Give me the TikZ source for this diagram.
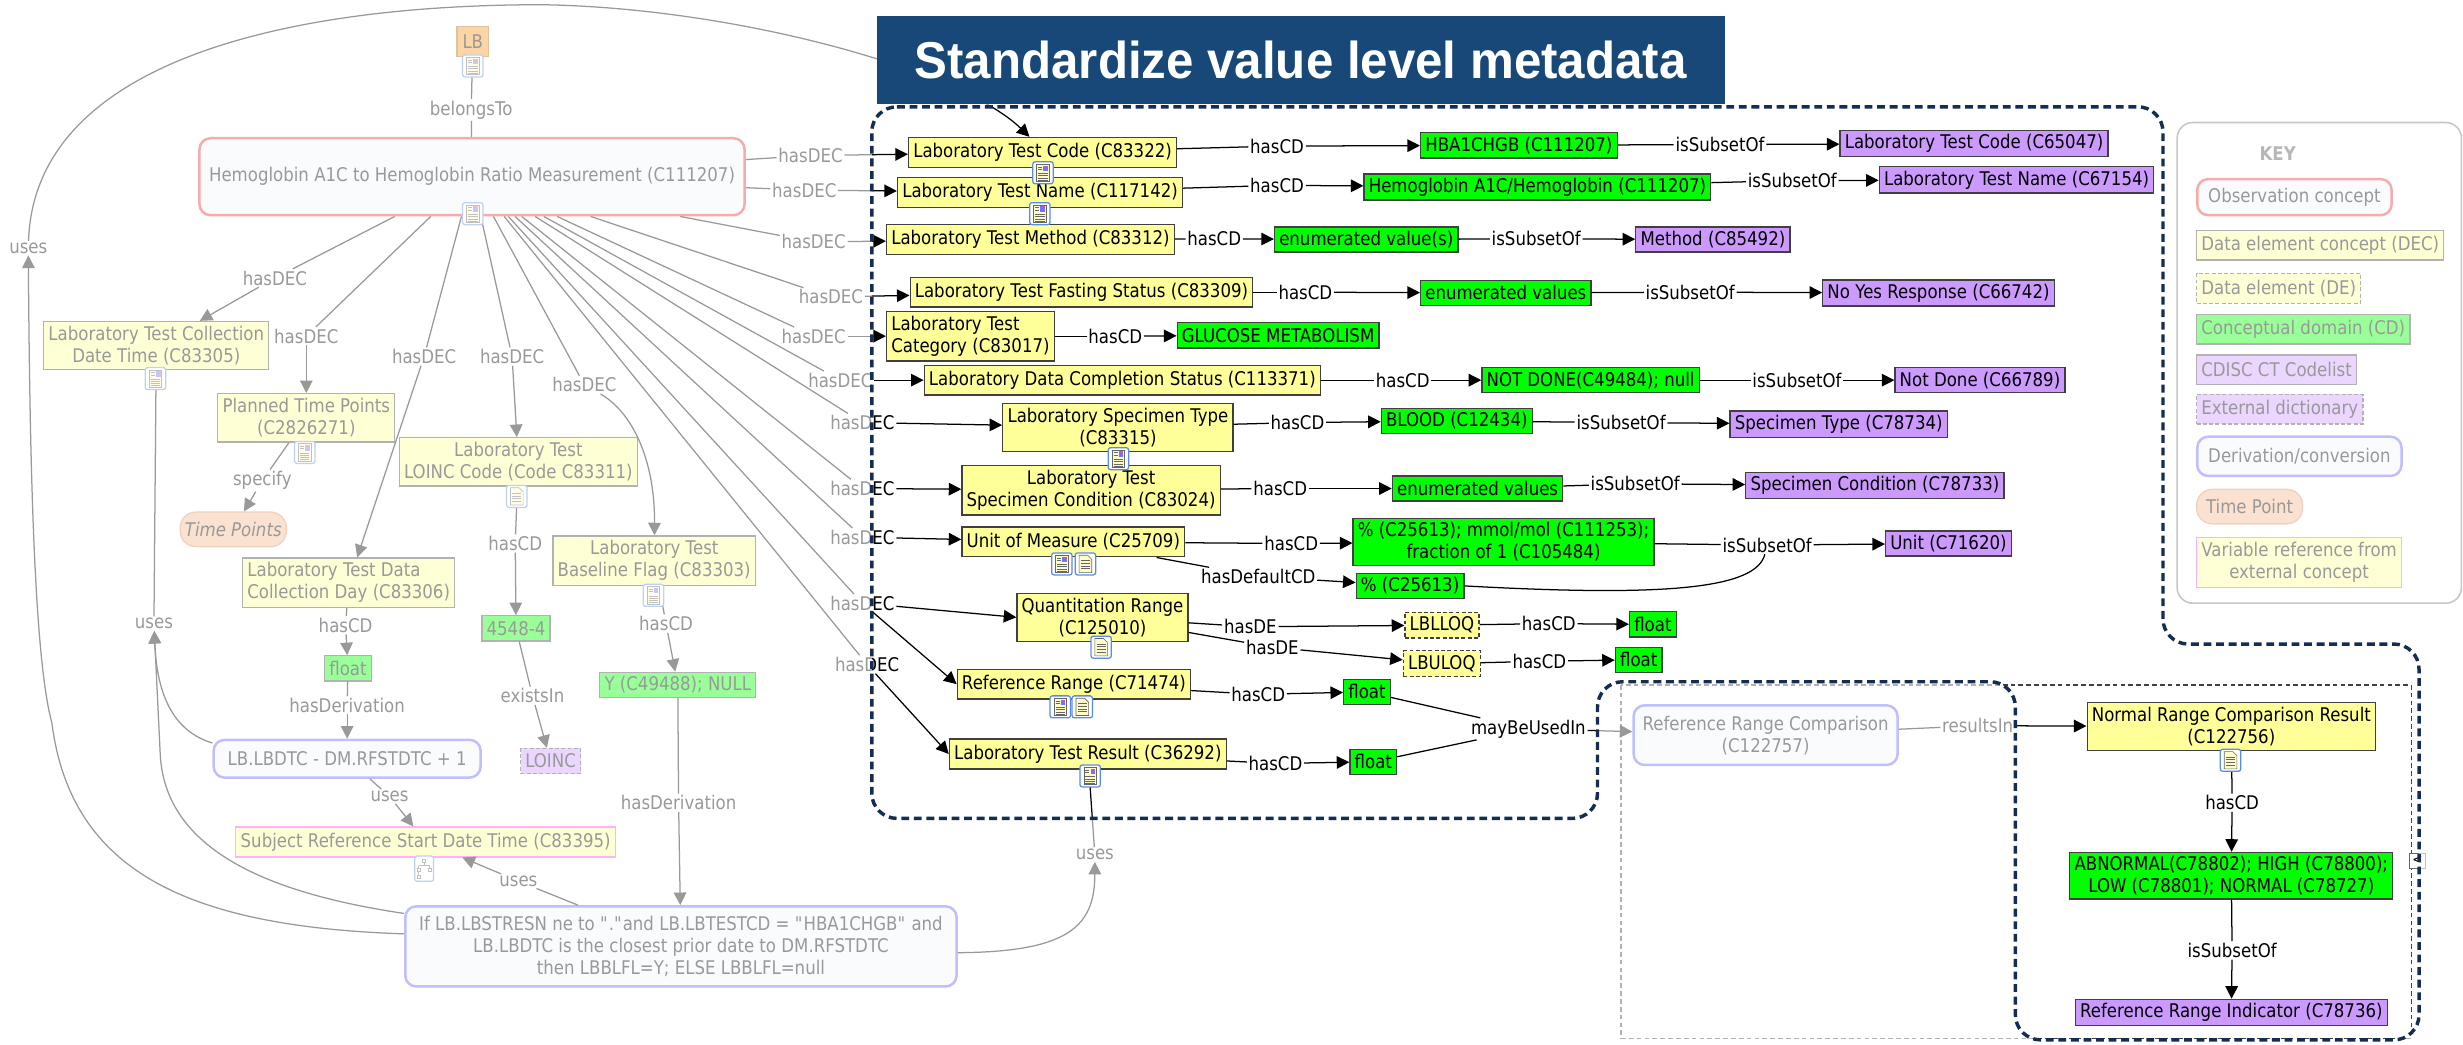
\documentclass[tikz,border=0pt]{standalone}
\usepackage{fontspec}
\setmainfont{DejaVu Sans}[FakeStretch=0.88]
\newfontfamily\titlefont{Liberation Sans}[FakeStretch=0.95]
\usetikzlibrary{arrows.meta}
\newcommand{\vfont}{\fontsize{12}{14}\selectfont}
\newcommand{\dq}{\textquotedbl}
\definecolor{navy}{RGB}{20,45,82}
\definecolor{titleblue}{RGB}{23,72,120}
\definecolor{decyellow}{RGB}{255,255,153}
\definecolor{cdgreen}{RGB}{0,255,0}
\definecolor{ctpurple}{RGB}{204,153,255}
\definecolor{obsred}{RGB}{235,45,45}
\definecolor{derivblue}{RGB}{95,95,250}
\definecolor{lightfill}{RGB}{242,247,251}
\definecolor{tpfill}{RGB}{245,180,135}
\definecolor{tpdraw}{RGB}{215,140,100}
\definecolor{lborange}{RGB}{245,150,25}
\definecolor{varpink}{RGB}{255,60,255}
\definecolor{iconblue}{RGB}{90,140,230}
\begin{document}
\begin{tikzpicture}[x=1pt, y=-1pt,
    every node/.style={font=\vfont, inner sep=3pt},
    box/.style={draw=black!75, line width=0.8pt},
    dec/.style={box, fill=decyellow, minimum height=19},
    cd/.style={box, fill=cdgreen, inner ysep=2.5pt, minimum height=16},
    ct/.style={box, fill=ctpurple, inner ysep=2.5pt, minimum height=16},
    de/.style={box, fill=decyellow, dash pattern=on 2.5pt off 1.5pt, minimum height=16},
    ext/.style={ct, dash pattern=on 2.5pt off 1.5pt},
    obs/.style={draw=obsred, line width=1.6pt, fill=lightfill, rounded corners=7pt},
    deriv/.style={draw=derivblue, line width=1.6pt, fill=lightfill, rounded corners=7pt},
    tp/.style={draw=tpdraw, line width=0.8pt, fill=tpfill, rounded corners=10pt, minimum height=22},
    varref/.style={draw=varpink, line width=0.8pt, fill=decyellow, minimum height=19},
    lbbox/.style={draw=lborange!70!black, line width=0.8pt, fill=lborange, inner sep=2pt, minimum height=19},
    lab/.style={inner sep=1pt},
    link/.style={draw=black, line width=0.8pt},
    arr/.style={link, -{Triangle[length=8pt, width=8pt]}},
    imgicon/.pic={
        \draw[iconblue, fill=white, line width=0.8pt, rounded corners=1.5pt] (-6.5,-7) rectangle (6.5,7);
        \draw[black!60, fill=yellow!20, line width=0.4pt] (-4,-5.5) rectangle (4,5.5);
        \fill[blue!55] (0.3,-4.6) rectangle (3.2,-1.2);
        \fill[red!70] (2,-4.6) rectangle (3.2,-3.4);
        \foreach \yy in {-3.8,-2.3} \draw[black!60, line width=0.4pt] (-3,\yy) -- (-0.5,\yy);
        \foreach \yy in {0.3,1.8,3.3,4.6} \draw[black!60, line width=0.4pt] (-3,\yy) -- (3,\yy);
    },
    txticon/.pic={
        \draw[iconblue, fill=white, line width=0.8pt, rounded corners=1.5pt] (-6.5,-7) rectangle (6.5,7);
        \draw[black!60, fill=yellow!20, line width=0.4pt] (-4,-5.5) -- (1.5,-5.5) -- (4,-3) -- (4,5.5) -- (-4,5.5) -- cycle;
        \foreach \yy in {-2,-0.3,1.4,3.1} \draw[black!60, line width=0.4pt] (-2.8,\yy) -- (2.8,\yy);
    },
    treeicon/.pic={
        \draw[iconblue, fill=white, line width=0.8pt, rounded corners=1.5pt] (-6,-8) rectangle (6,8);
        \draw[black!60, line width=0.4pt] (-1,-6) rectangle (1,-4) (0,-4) -- (0,-2) (-3.5,-2) -- (3.5,-2)
            (-3.5,-2) -- (-3.5,0) (3.5,-2) -- (3.5,0) (-4.5,0) rectangle (-2.5,2) (2.5,0) rectangle (4.5,2)
            (-3.5,2) -- (-3.5,4) (-4.5,4) rectangle (-2.5,6);
    }
]
\useasboundingbox (0,0) rectangle (1568,665);

% Concetto di osservazione
\node[lbbox, minimum width=20] (lb) at (301,26.5) {LB};
\node[lab] (belongs) at (300,70) {belongsTo};
\node[obs, minimum width=347, minimum height=49] (obs) at (300.5,112.5) {Hemoglobin A1C to Hemoglobin Ratio Measurement (C111207)};

% DEC a sinistra
\node[dec, align=center] (dcoll) at (99.5,220) {Laboratory Test Collection\\Date Time (C83305)};
\node[dec, align=center] (dplan) at (195,266) {Planned Time Points\\(C2826271)};
\node[tp] (tpoint) at (148.5,337) {\itshape Time Points};
\node[dec, align=center] (dloinc) at (330,294) {Laboratory Test\\LOINC Code (Code C83311)};
\node[dec, align=left] (dday) at (222,371) {Laboratory Test Data\\Collection Day (C83306)};
\node[dec, align=center] (dbase) at (416.5,357) {Laboratory Test\\Baseline Flag (C83303)};
\node[cd] (cdfloat) at (221.5,425.5) {float};
\node[cd] (cdloinc) at (328.5,400) {4548-4};
\node[cd] (cdy) at (431.5,436) {Y (C49488); NULL};
\node[ext] (extloinc) at (350.5,484.5) {LOINC};
\node[deriv, minimum width=170, minimum height=24] (lbdtc) at (221,483) {LB.LBDTC - DM.RFSTDTC + 1};
\node[varref, minimum width=242] (subjref) at (271,536) {Subject Reference Start Date Time (C83395)};
\node[deriv, align=center, minimum width=351, minimum height=51] (bnode) at (433.5,602.5) {If LB.LBSTRESN ne to \dq.\dq and LB.LBTESTCD = \dq HBA1CHGB\dq{} and\\LB.LBDTC is the closest prior date to DM.RFSTDTC\\then LBBLFL=Y; ELSE LBBLFL=null};

\node[lab] (hdcoll) at (175,177) {hasDEC};
\node[lab] (hdplan) at (195,214) {hasDEC};
\node[lab] (hdday) at (270,227) {hasDEC};
\node[lab] (hdloinc) at (326,227) {hasDEC};
\node[lab] (hdbase) at (372,245) {hasDEC};
\node[lab] (spec) at (167,306) {specify};
\node[lab] (hcloinc) at (328,346) {hasCD};
\node[lab] (exists) at (339,443) {existsIn};
\node[lab] (hcbase) at (424,397) {hasCD};
\node[lab] (hcday) at (220,398) {hasCD};
\node[lab] (hderday) at (221,449) {hasDerivation};
\node[lab] (hderbase) at (432,511) {hasDerivation};
\node[lab] (usesa) at (18,158) {uses};
\node[lab] (usesb) at (98,397) {uses};
\node[lab] (usesc) at (330,561) {uses};
\node[lab] (usesd) at (248,507) {uses};
\node[lab] (usese) at (697,544) {uses};

% Metadati a livello di valore
\node[dec, anchor=west] (dcode) at (578,97) {Laboratory Test Code (C83322)};
\node[dec, anchor=west] (dname) at (571,122.5) {Laboratory Test Name (C117142)};
\node[dec, anchor=west] (dmeth) at (564,152.5) {Laboratory Test Method (C83312)};
\node[dec, anchor=west] (dfast) at (579,186) {Laboratory Test Fasting Status (C83309)};
\node[dec, anchor=west, align=left] (dcat) at (564,214) {Laboratory Test\\Category (C83017)};
\node[dec, anchor=west] (dcompl) at (588,242) {Laboratory Data Completion Status (C113371)};
\node[dec, anchor=west, align=center] (dspec) at (638,272) {Laboratory Specimen Type\\(C83315)};
\node[dec, anchor=west, align=center] (dcond) at (612,312) {Laboratory Test\\Specimen Condition (C83024)};
\node[dec, anchor=west] (dunit) at (612,345) {Unit of Measure (C25709)};
\node[dec, anchor=west, align=center] (dquant) at (647,393) {Quantitation Range\\(C125010)};
\node[dec, anchor=west] (dref) at (609,435.5) {Reference Range (C71474)};
\node[dec, anchor=west] (dres) at (604,480) {Laboratory Test Result (C36292)};

\node[cd, anchor=west] (cd1) at (904,92.5) {HBA1CHGB (C111207)};
\node[cd, anchor=west] (cd2) at (868,119) {Hemoglobin A1C/Hemoglobin (C111207)};
\node[cd, anchor=west] (cd3) at (811,152.5) {enumerated value(s)};
\node[cd, anchor=west] (cd4) at (904,186.5) {enumerated values};
\node[cd, anchor=west] (cd5) at (749,213.5) {GLUCOSE METABOLISM};
\node[cd, anchor=west] (cd6) at (943,242) {NOT DONE(C49484); null};
\node[cd, anchor=west] (cd7) at (879,268) {BLOOD (C12434)};
\node[cd, anchor=west] (cd8) at (886,311) {enumerated values};
\node[cd, anchor=west, align=center] (cd9) at (861,345) {\% (C25613); mmol/mol (C111253);\\fraction of 1 (C105484)};
\node[cd, anchor=west] (cd10) at (863,373) {\% (C25613)};
\node[de, anchor=west] (de1) at (894,398) {LBLLOQ};
\node[de, anchor=west] (de2) at (893,422.5) {LBULOQ};
\node[cd, anchor=west] (cd11) at (1037,397.5) {float};
\node[cd, anchor=west] (cd12) at (1028,420) {float};
\node[cd, anchor=west] (cd13) at (855,440.5) {float};
\node[cd, anchor=west] (cd14) at (859,485) {float};

\node[ct, anchor=west] (ct1) at (1171,91.5) {Laboratory Test Code (C65047)};
\node[ct, anchor=west] (ct2) at (1196,114.5) {Laboratory Test Name (C67154)};
\node[ct, anchor=west] (ct3) at (1041,152.5) {Method (C85492)};
\node[ct, anchor=west] (ct4) at (1160,186.5) {No Yes Response (C66742)};
\node[ct, anchor=west] (ct5) at (1206,242) {Not Done (C66789)};
\node[ct, anchor=west] (ct6) at (1101,270) {Specimen Type (C78734)};
\node[ct, anchor=west] (ct7) at (1111,309) {Specimen Condition (C78733)};
\node[ct, anchor=west] (ct8) at (1200,346) {Unit (C71620)};

\node[lab] (hcode) at (516,99) {hasDEC};
\node[lab] (hname) at (512,121) {hasDEC};
\node[lab] (hmeth) at (518,154) {hasDEC};
\node[lab] (hfast) at (529,189) {hasDEC};
\node[lab] (hcat) at (518,214) {hasDEC};
\node[lab] (hcompl) at (535,242) {hasDEC};
\node[lab] (hspec) at (549,269) {hasDEC};
\node[lab] (hcond) at (549,311) {hasDEC};
\node[lab] (hunit) at (549,342) {hasDEC};
\node[lab] (hquant) at (549,384) {hasDEC};
\node[lab] (hres) at (552,423) {hasDEC};

\node[lab] (hc1) at (813,93) {hasCD};
\node[lab] (hc2) at (813,118) {hasCD};
\node[lab] (hc3) at (773,152) {hasCD};
\node[lab] (hc4) at (831,186) {hasCD};
\node[lab] (hc5) at (710,214) {hasCD};
\node[lab] (hc6) at (893,242) {hasCD};
\node[lab] (hc7) at (826,269) {hasCD};
\node[lab] (hc8) at (815,311) {hasCD};
\node[lab] (hc9) at (822,346) {hasCD};
\node[lab] (hdef) at (801,367) {hasDefaultCD};
\node[lab] (hde1) at (796,399) {hasDE};
\node[lab] (hde2) at (810,412) {hasDE};
\node[lab] (hc11) at (986,397) {hasCD};
\node[lab] (hc12) at (980,421) {hasCD};
\node[lab] (hc13) at (801,442) {hasCD};
\node[lab] (hc14) at (812,486) {hasCD};
\node[lab] (sub1) at (1095,92) {isSubsetOf};
\node[lab] (sub2) at (1141,115) {isSubsetOf};
\node[lab] (sub3) at (978,152) {isSubsetOf};
\node[lab] (sub4) at (1076,186) {isSubsetOf};
\node[lab] (sub6) at (1144,242) {isSubsetOf};
\node[lab] (sub7) at (1032,269) {isSubsetOf};
\node[lab] (sub8) at (1041,308) {isSubsetOf};
\node[lab] (sub9) at (1125,347) {isSubsetOf};

% Confronto con l'intervallo di riferimento
\draw[black!75, line width=0.8pt, dash pattern=on 3pt off 2pt] (1032,436) rectangle (1535,661);
\node[deriv, align=center, minimum width=168, minimum height=38] (rrc) at (1124,468) {Reference Range Comparison\\(C122757)};
\node[dec, align=center] (nrc) at (1420.5,462.5) {Normal Range Comparison Result\\(C122756)};
\node[cd, align=center] (abn) at (1420.5,557.5) {ABNORMAL(C78802); HIGH (C78800);\\LOW (C78801); NORMAL (C78727)};
\node[ct] (rri) at (1420.5,644.5) {Reference Range Indicator (C78736)};
\node[lab] (maybe) at (973,464) {mayBeUsedIn};
\node[lab] (results) at (1259,462) {resultsIn};
\node[lab] (hcnrc) at (1421,511) {hasCD};
\node[lab] (subnrc) at (1421,605) {isSubsetOf};
\node[draw=black!60, fill=white, inner sep=0.5pt, minimum size=10, font=\fontsize{9}{9}\selectfont] (collapse) at (1539,548) {<};

% Legenda
\node[draw=black!55, line width=1pt, rounded corners=10pt, minimum width=181, minimum height=306] (key) at (1476.5,231) {};
\node[font=\vfont\bfseries, text=black!70] (keytitle) at (1450,98) {KEY};
\node[obs, anchor=west, minimum height=23, inner xsep=7pt] (kobs) at (1398,125.5) {Observation concept};
\node[dec, anchor=west] (kdec) at (1398,156) {Data element concept (DEC)};
\node[de, anchor=west, minimum height=19] (kde) at (1398,183.5) {Data element (DE)};
\node[cd, anchor=west, minimum height=19] (kcd) at (1398,209.5) {Conceptual domain (CD)};
\node[ct, anchor=west, minimum height=19] (kct) at (1398,235.5) {CDISC CT Codelist};
\node[ext, anchor=west, minimum height=19] (kext) at (1398,260.5) {External dictionary};
\node[deriv, anchor=west, minimum height=25, inner xsep=7pt] (kder) at (1398,290.5) {Derivation/conversion};
\node[tp, anchor=west, inner xsep=6pt] (ktp) at (1398,322.5) {Time Point};
\node[varref, anchor=west, align=center] (kvar) at (1398,358) {Variable reference from\\external concept};

% Collegamenti a sinistra
\draw[link] (lb) -- (belongs) -- (obs);
\draw[link] (obs) -- (hdcoll);  \draw[arr] (hdcoll) -- (dcoll);
\draw[link] (obs) -- (hdplan);  \draw[arr] (hdplan) -- (dplan);
\draw[link] (obs) -- (hdday);   \draw[arr] (hdday) -- (dday);
\draw[link] (obs) -- (hdloinc); \draw[arr] (hdloinc) -- (dloinc);
\draw[link] (obs) -- (hdbase);  \draw[arr] (hdbase) .. controls (402,262) and (417,292) .. (dbase);
\draw[link] (dplan) -- (spec);  \draw[arr] (spec) -- (tpoint);
\draw[link] (dloinc) -- (hcloinc); \draw[arr] (hcloinc) -- (cdloinc);
\draw[link] (cdloinc) -- (exists); \draw[arr] (exists) -- (extloinc);
\draw[link] (dbase) -- (hcbase); \draw[arr] (hcbase) -- (cdy);
\draw[link] (dday) -- (hcday);   \draw[arr] (hcday) -- (cdfloat);
\draw[link] (cdfloat) -- (hderday); \draw[arr] (hderday) -- (lbdtc);
\draw[link] (cdy) -- (hderbase); \draw[arr] (hderbase) -- (bnode);
\draw[arr] ([yshift=8pt]bnode.west) .. controls (120,590) and (45,555) .. (33,460) .. controls (22,420) and (19,300) .. (usesa);
\draw[arr] (usesa) .. controls (22,40) and (180,3) .. (345,3) .. controls (470,5) and (612,45) .. (dcode.130);
\draw[arr] ([yshift=21pt]bnode.west) .. controls (180,570) and (105,545) .. (102,480) -- (usesb);
\draw[arr] ([yshift=10pt]lbdtc.west) .. controls (112,466) and (100,445) .. (usesb);
\draw[link] (usesb) -- (dcoll);
\draw[link] (bnode) -- (usesc);  \draw[arr] (usesc) -- (subjref);
\draw[link] (lbdtc) -- (usesd);  \draw[arr] (usesd) -- (subjref);
\draw[arr] ([yshift=-4pt]bnode.east) .. controls (680,606) and (697,590) .. (usese);
\draw[link] (usese) -- (dres);

% hasDEC verso destra
\draw[link] (obs) -- (hcode);   \draw[arr] (hcode) -- (dcode);
\draw[link] (obs) -- (hname);   \draw[arr] (hname) -- (dname);
\draw[link] (obs) -- (hmeth);   \draw[arr] (hmeth) -- (dmeth);
\draw[link] (obs) -- (hfast);   \draw[arr] (hfast) -- (dfast);
\draw[link] (obs) -- (hcat);    \draw[arr] (hcat) -- (dcat);
\draw[link] (obs) -- (hcompl);  \draw[arr] (hcompl) -- (dcompl);
\draw[link] (obs) -- (hspec);   \draw[arr] (hspec) -- (dspec);
\draw[link] (obs) -- (hcond);   \draw[arr] (hcond) -- (dcond);
\draw[link] (obs) -- (hunit);   \draw[arr] (hunit) -- (dunit);
\draw[link] (obs) -- (hquant);  \draw[arr] (hquant) -- (dquant.west);
\draw[arr] (hquant) -- (dref.west);
\draw[link] (obs) -- (hres);    \draw[arr] (hres) -- (dres.west);

% hasCD e isSubsetOf
\draw[link] (dcode) -- (hc1);  \draw[arr] (hc1) -- (cd1);  \draw[link] (cd1) -- (sub1);  \draw[arr] (sub1) -- (ct1);
\draw[link] (dname) -- (hc2);  \draw[arr] (hc2) -- (cd2);  \draw[link] (cd2) -- (sub2);  \draw[arr] (sub2) -- (ct2);
\draw[link] (dmeth) -- (hc3);  \draw[arr] (hc3) -- (cd3);  \draw[link] (cd3) -- (sub3);  \draw[arr] (sub3) -- (ct3);
\draw[link] (dfast) -- (hc4);  \draw[arr] (hc4) -- (cd4);  \draw[link] (cd4) -- (sub4);  \draw[arr] (sub4) -- (ct4);
\draw[link] (dcat) -- (hc5);   \draw[arr] (hc5) -- (cd5);
\draw[link] (dcompl) -- (hc6); \draw[arr] (hc6) -- (cd6);  \draw[link] (cd6) -- (sub6);  \draw[arr] (sub6) -- (ct5);
\draw[link] (dspec) -- (hc7);  \draw[arr] (hc7) -- (cd7);  \draw[link] (cd7) -- (sub7);  \draw[arr] (sub7) -- (ct6);
\draw[link] (dcond) -- (hc8);  \draw[arr] (hc8) -- (cd8);  \draw[link] (cd8) -- (sub8);  \draw[arr] (sub8) -- (ct7);
\draw[link] (dunit) -- (hc9);  \draw[arr] (hc9) -- (cd9);  \draw[link] (cd9) -- (sub9);  \draw[arr] (sub9) -- (ct8);
\draw[link] (dunit) -- (hdef); \draw[arr] (hdef) -- (cd10);
\draw[link] (cd10.east) .. controls (1060,380) and (1118,375) .. (sub9);
\draw[link] (dquant) -- (hde1); \draw[arr] (hde1) -- (de1); \draw[link] (de1) -- (hc11); \draw[arr] (hc11) -- (cd11);
\draw[link] (dquant) -- (hde2); \draw[arr] (hde2) -- (de2); \draw[link] (de2) -- (hc12); \draw[arr] (hc12) -- (cd12);
\draw[link] (dref) -- (hc13);  \draw[arr] (hc13) -- (cd13);
\draw[link] (dres) -- (hc14);  \draw[arr] (hc14) -- (cd14);
\draw[link] (cd13) -- (maybe); \draw[link] (cd14) -- (maybe); \draw[arr] (maybe) -- (rrc);
\draw[link] (rrc) -- (results); \draw[arr] (results) -- (nrc);
\draw[link] (nrc) -- (hcnrc);  \draw[arr] (hcnrc) -- (abn);
\draw[link] (abn) -- (subnrc); \draw[arr] (subnrc) -- (rri);

% Icone
\pic at (301,42) {imgicon};
\pic at (301,136) {imgicon};
\pic at (99,241) {imgicon};
\pic at (194,288) {imgicon};
\pic at (329,316) {txticon};
\pic at (416,379) {imgicon};
\pic at (270,553) {treeicon};
\pic at (664,110) {imgicon};
\pic at (662,136) {imgicon};
\pic at (712,292) {imgicon};
\pic at (676,359) {imgicon};
\pic at (691,359) {txticon};
\pic at (701,412) {txticon};
\pic at (675,450) {imgicon};
\pic at (689,450) {txticon};
\pic at (694,494) {imgicon};
\pic at (1420,484) {txticon};

% Velatura fuori dalla regione
\fill[white, fill opacity=0.6, even odd rule] (0,0) rectangle (1568,665)
    [rounded corners=16] (555,68) -- (1377,68) -- (1377,410) -- (1540,410) -- (1540,662) -- (1283,662)
    -- (1283,434) -- (1017,434) -- (1017,521) -- (555,521) -- cycle;
\draw[navy, line width=2.2pt, dash pattern=on 5pt off 3pt, rounded corners=16]
    (555,68) -- (1377,68) -- (1377,410) -- (1540,410) -- (1540,662) -- (1283,662)
    -- (1283,434) -- (1017,434) -- (1017,521) -- (555,521) -- cycle;

% Titolo
\node[fill=titleblue, text=white, minimum width=540, minimum height=56, inner sep=0pt,
      font={\titlefont\bfseries\fontsize{33}{36}\selectfont}] (title) at (828,38) {Standardize value level metadata};
\end{tikzpicture}
\end{document}
